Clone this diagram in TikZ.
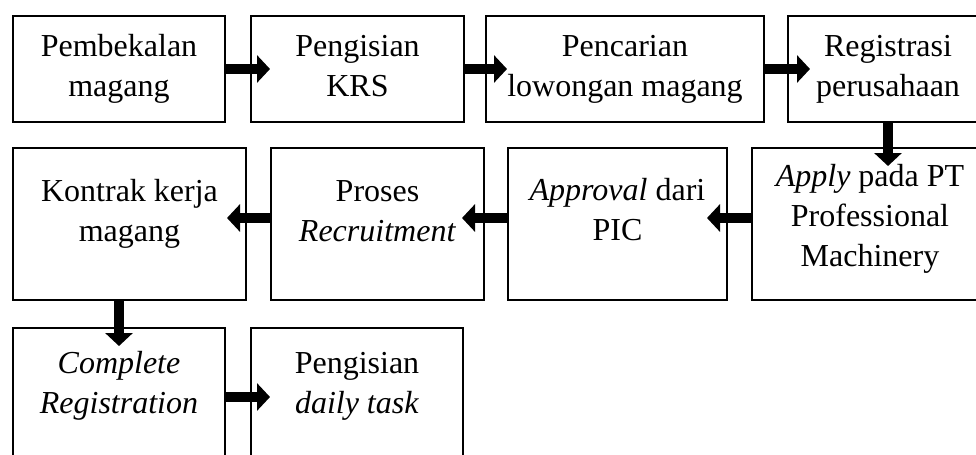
\documentclass[tikz,border=0pt]{standalone}
\usepackage{fontspec}
\setmainfont{Liberation Serif}
\usetikzlibrary{
arrows.meta,
positioning
}

\begin{document}
\begin{tikzpicture}[
    thick,
    >={Triangle[width=13.5pt,length=6.5pt]},
    box/.style={draw,
      line width=1pt,
      fill=white,
      align=center,
      inner sep=0pt,
      font=\fontsize{16pt}{20pt}\selectfont},
    flow/.style={->, line width=5pt}
  ]
  \useasboundingbox (-6pt,7.5pt) rectangle (482pt,-220pt);
  \clip (-6pt,7.5pt) rectangle (482pt,-220pt);
  % first row
  \node[box, anchor=north west, minimum width=106pt, text height=40pt, text depth=13pt] (Bk) at (0,0) {Pembekalan\\magang};
  \node[box, right=12pt of Bk, minimum width=106.5pt, text height=40pt, text depth=13pt] (Krs) {Pengisian\\KRS};
  \node[box, right=10pt of Krs, minimum width=139pt, text height=40pt, text depth=13pt] (Low) {Pencarian\\lowongan magang};
  \node[box, right=11pt of Low, minimum width=100pt, text height=40pt, text depth=13pt] (Reg) {Registrasi\\perusahaan};
  % second row
  \node[box, below=12pt of Bk.south west, anchor=north west, minimum width=116.5pt, text height=46.5pt, text depth=29.5pt] (Kon) {Kontrak kerja\\magang};
  \node[box, right=11.5pt of Kon, minimum width=106.5pt, text height=46.5pt, text depth=29.5pt] (Rec) {Proses\\\textit{Recruitment}};
  \node[box, right=11pt of Rec, minimum width=109.5pt, text height=46pt, text depth=30pt] (Apv) {\textit{Approval} dari\\PIC};
  \node[box, right=11.5pt of Apv, minimum width=118pt, text height=59pt, text depth=17pt] (App) {\textit{Apply} pada PT\\Professional\\Machinery};
  % third row
  \node[box, below=13pt of Kon.south west, anchor=north west, minimum width=106pt, text height=42.5pt, text depth=26.5pt] (Com) {\textit{Complete}\\\textit{Registration}};
  \node[box, right=12pt of Com, minimum width=106pt, text height=42.5pt, text depth=26.5pt] (Dly) {Pengisian\\\textit{daily task}};

  \draw[flow] (Bk.east) -- ([xshift=10pt]Krs.west);
  \draw[flow] (Krs.east) -- ([xshift=11pt]Low.west);
  \draw[flow] (Low.east) -- ([xshift=11.5pt]Reg.west);
  \draw[flow] (Reg.south) -- ([yshift=-9.5pt]Reg.south |- App.north);
  \draw[flow] ([yshift=3pt]App.west) -- ([xshift=-10.5pt,yshift=3pt]Apv.east);
  \draw[flow] ([yshift=3pt]Apv.west) -- ([xshift=-11.5pt,yshift=3pt]Rec.east);
  \draw[flow] ([yshift=3pt]Rec.west) -- ([xshift=-10pt,yshift=3pt]Kon.east);
  \draw[flow] (Kon.south -| Com.north) -- ([yshift=-9.5pt]Com.north);
  \draw[flow] (Com.east) -- ([xshift=10pt]Dly.west);
\end{tikzpicture}
\end{document}
